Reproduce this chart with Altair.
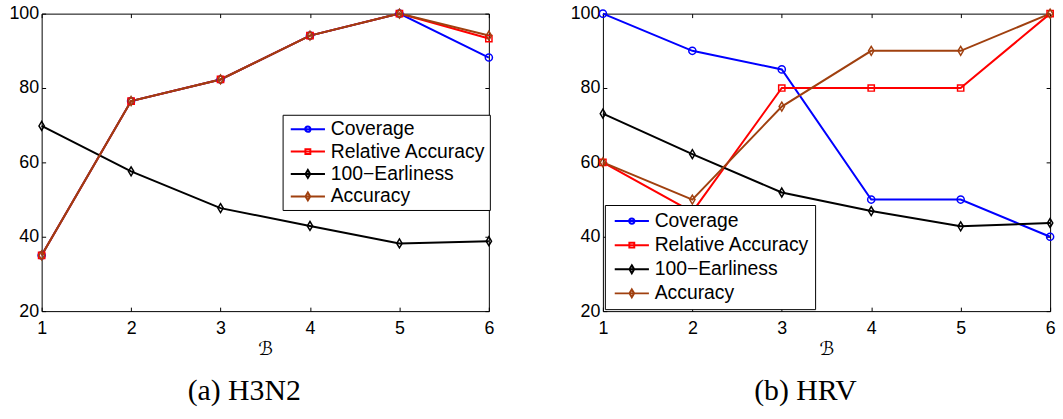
import altair as alt
import pandas as pd

# x positions (the parameter B) and the four plotted series
B_VALUES = [1, 2, 3, 4, 5, 6]
SERIES = ["Coverage", "Relative Accuracy", "100\u2212Earliness", "Accuracy"]
Y_TICKS = [20, 40, 60, 80, 100]

# (a) H3N2
H3N2_COVERAGE = [35.0, 76.5, 82.3, 94.1, 100.0, 88.2]
H3N2_REL_ACCURACY = [35.0, 76.5, 82.3, 94.1, 100.0, 93.3]
H3N2_EARLINESS = [69.8, 57.6, 47.7, 42.9, 38.2, 38.8]
H3N2_ACCURACY = [35.0, 76.5, 82.3, 94.1, 100.0, 94.1]

# (b) HRV
HRV_COVERAGE = [100.0, 90.0, 85.0, 50.0, 50.0, 40.0]
HRV_REL_ACCURACY = [60.0, 46.7, 80.0, 80.0, 80.0, 100.0]
HRV_EARLINESS = [73.1, 62.2, 51.9, 46.9, 42.8, 43.7]
HRV_ACCURACY = [60.0, 50.0, 75.0, 90.0, 90.0, 100.0]

COLORS = ["#0000ff", "#ff0000", "#000000", "#a0400f"]

# marker outlines (unit coordinates, scaled by the symbol size)
CIRCLE = "M-0.8,0A0.8,0.8,0,1,0,0.8,0A0.8,0.8,0,1,0,-0.8,0Z"
SQUARE = "M-0.7,-0.7L0.7,-0.7L0.7,0.7L-0.7,0.7Z"
DIAMOND = "M0,-1L0.6,0L0,1L-0.6,0Z"
MARKER_PATHS = [CIRCLE, SQUARE, DIAMOND, DIAMOND]

# legend keys: a line segment with the marker in its middle
KEY_LINE = "M-0.66,0L2.97,0"
KEY_CIRCLE = KEY_LINE + "M0.875,0A0.28,0.28,0,1,0,1.435,0A0.28,0.28,0,1,0,0.875,0Z"
KEY_SQUARE = KEY_LINE + "M0.895,-0.26L1.415,-0.26L1.415,0.26L0.895,0.26Z"
KEY_DIAMOND = KEY_LINE + "M1.155,-0.42L1.405,0L1.155,0.42L0.905,0Z"
KEY_PATHS = [KEY_CIRCLE, KEY_SQUARE, KEY_DIAMOND, KEY_DIAMOND]

W, H = 451, 300
SANS = "Liberation Sans"
SERIF = "Liberation Serif"


def long_frame(columns):
    rows = []
    for name, values in zip(SERIES, columns):
        for b, v in zip(B_VALUES, values):
            rows.append({"B": b, "value": v, "series": name})
    return pd.DataFrame(rows)


def tick_axis(orient, values, offset):
    # label-less axis used only for inward-pointing tick marks
    return alt.Axis(orient=orient, values=values, offset=offset, labels=False,
                    tickSize=4, tickColor="black", tickWidth=1, domain=False,
                    grid=False, title=None)


def panel(df, caption, legend_x, legend_y, legend_pad, row_pad):
    x_scale = alt.Scale(domain=[1, 6], nice=False, zero=False)
    y_scale = alt.Scale(domain=[20, 100], nice=False, zero=False)
    base = alt.Chart(df)

    lines = base.mark_line(strokeWidth=2).encode(
        x=alt.X("B:Q", scale=x_scale, axis=alt.Axis(
            orient="bottom", values=B_VALUES, tickSize=0, labelPadding=9,
            domain=False, grid=False, labelFont=SANS, labelFontSize=18,
            labelColor="black", labelFlush=False, labelOverlap=False,
            title="\u212c", titleFont="DejaVu Sans", titleFontSize=19,
            titleFontWeight="normal", titleColor="black", titlePadding=2)),
        y=alt.Y("value:Q", scale=y_scale, axis=alt.Axis(
            orient="left", values=Y_TICKS, tickSize=0, labelPadding=3,
            domain=False, grid=False, labelFont=SANS, labelFontSize=18,
            labelColor="black", labelFlush=False, labelOverlap=False,
            title=None)),
        color=alt.Color("series:N", scale=alt.Scale(domain=SERIES, range=COLORS),
                        legend=None),
    )

    points = base.mark_point(filled=False, strokeWidth=1.5, size=81, opacity=1).encode(
        x=alt.X("B:Q", scale=x_scale, axis=tick_axis("top", B_VALUES, -H)),
        y=alt.Y("value:Q", scale=y_scale, axis=tick_axis("right", Y_TICKS, -W)),
        color=alt.Color("series:N", scale=alt.Scale(domain=SERIES, range=COLORS),
                        legend=None),
        shape=alt.Shape("series:N", scale=alt.Scale(domain=SERIES, range=MARKER_PATHS),
                        legend=None),
    )

    legend = alt.Legend(
        orient="none", legendX=legend_x, legendY=legend_y, title=None,
        labelFont=SANS, labelFontSize=19.5, labelColor="black", labelOffset=23.5,
        symbolSize=361, symbolStrokeWidth=2, symbolOpacity=1,
        strokeColor="black", fillColor="white", padding=legend_pad,
        rowPadding=row_pad,
    )
    keys = base.mark_point(filled=False, strokeWidth=2).transform_filter("false").encode(
        x=alt.X("B:Q", scale=x_scale, axis=tick_axis("bottom", B_VALUES, -H)),
        y=alt.Y("value:Q", scale=y_scale, axis=tick_axis("left", Y_TICKS, -W)),
        color=alt.Color("series:N", scale=alt.Scale(domain=SERIES, range=COLORS),
                        legend=legend),
        shape=alt.Shape("series:N", scale=alt.Scale(domain=SERIES, range=KEY_PATHS),
                        legend=legend),
    )

    return alt.layer(lines, points, keys).resolve_scale(
        color="independent", shape="independent"
    ).resolve_axis(
        x="independent", y="independent"
    ).properties(
        width=W, height=H,
        title=alt.TitleParams(caption, orient="bottom", anchor="middle",
                              frame="bounds", font=SERIF, fontSize=30,
                              fontWeight="normal", color="black", offset=18,
                              dx=-8),
    )


left = panel(long_frame([H3N2_COVERAGE, H3N2_REL_ACCURACY, H3N2_EARLINESS, H3N2_ACCURACY]),
             "(a) H3N2", 243, 102, 4, 2.6)
right = panel(long_frame([HRV_COVERAGE, HRV_REL_ACCURACY, HRV_EARLINESS, HRV_ACCURACY]),
              "(b) HRV", 2, 193, 5.7, 4.3)

chart = alt.hconcat(left, right, spacing=73).configure_view(
    stroke="black", strokeWidth=1
).properties(
    padding={"left": 8, "top": 2, "right": 5, "bottom": 5},
    background="white",
)

chart.save("out.html", embed_options={"renderer": "svg", "actions": False})
